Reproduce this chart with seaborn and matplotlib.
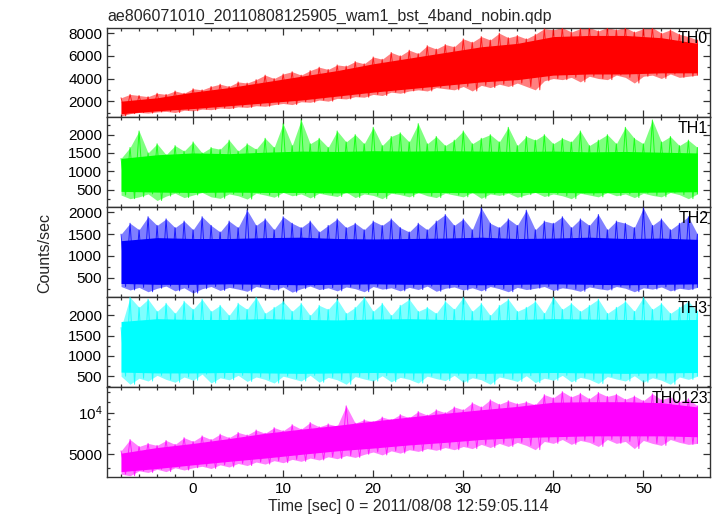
import numpy as np
import pandas as pd
import matplotlib
matplotlib.use("Agg")
import matplotlib.pyplot as plt
from matplotlib.ticker import MultipleLocator, FixedLocator, FixedFormatter, NullFormatter
import seaborn as sns

# ---------------- data ----------------
# spike extremes, 1-s samples
time_s = list(range(-8, 57))

th0_hi = [2300, 2600, 2500, 2400, 2700, 2600, 2900, 2700, 3100, 3000, 3300, 3500, 3300, 3700, 3600, 3900,
          4300, 4000, 4400, 4600, 4300, 4700, 5000, 4800, 5200, 5100, 5500, 5300, 5900, 5700, 6300, 6000,
          6500, 6200, 6900, 6600, 7000, 6800, 7500, 7200, 7700, 7400, 8000, 7600, 7800, 7500, 7900, 8400,
          8300, 8500, 8100, 8400, 8500, 8200, 8500, 8300, 8500, 8100, 8400, 8500, 8000, 8300, 7900, 7700, 7400]
th0_lo = [700, 900, 1000, 950, 1050, 1100, 1000, 1200, 1150, 1300, 1250, 1400, 1350, 1500, 1450, 1600,
          1550, 1700, 1800, 1700, 1950, 1900, 2100, 2000, 2250, 2200, 2400, 2350, 2600, 2500, 2800, 2700,
          2900, 3000, 2900, 3200, 3100, 3000, 3300, 2900, 3400, 3200, 3500, 3300, 3600, 3300, 3000, 3800,
          4000, 3900, 4100, 3700, 4200, 4000, 3900, 4300, 4100, 3600, 4200, 4300, 4000, 4400, 4100, 4200, 4300]

th1_hi = [1350, 1650, 2100, 1500, 1750, 1450, 1700, 1550, 1800, 1500, 1650, 1600, 1850, 1550, 1750, 1600,
          1900, 1650, 2300, 1700, 2400, 1750, 1900, 1650, 2100, 1800, 2000, 1750, 2200, 1700, 1950, 2050,
          1800, 2300, 1750, 1950, 1700, 1850, 2100, 1750, 1900, 2000, 1800, 2200, 1700, 1950, 1850, 2000,
          1750, 1900, 1800, 2100, 1700, 1850, 2000, 1750, 2200, 1900, 1750, 2400, 1800, 1950, 1700, 1850, 1650]
th1_lo = [350, 250, 300, 380, 200, 320, 400, 280, 350, 420, 300, 260, 380, 330, 240, 400,
          350, 290, 420, 330, 380, 270, 400, 350, 310, 430, 280, 380, 340, 250, 400, 360,
          300, 420, 330, 280, 400, 350, 300, 420, 260, 380, 340, 400, 290, 360, 420, 310,
          380, 330, 250, 400, 350, 300, 420, 330, 380, 280, 400, 340, 300, 420, 360, 250, 380]

th2_hi = [1500, 1750, 1600, 1900, 1700, 1850, 1650, 1800, 1600, 1900, 1700, 1550, 1800, 1650, 2050, 1700,
          1850, 1600, 1900, 1750, 1650, 1800, 1550, 1700, 1850, 1650, 1750, 1600, 1800, 1700, 1850, 1650,
          1550, 1750, 1600, 1800, 1950, 1700, 1850, 1600, 2100, 1750, 1650, 1850, 1700, 2050, 1600, 1800,
          1750, 1900, 1650, 1850, 1700, 1950, 1600, 1800, 1750, 1650, 2100, 1700, 1850, 1600, 1750, 1900, 1500]
th2_lo = [300, 220, 280, 180, 260, 310, 200, 270, 150, 250, 300, 210, 280, 240, 190, 300,
          260, 220, 290, 170, 250, 310, 230, 270, 200, 290, 250, 180, 300, 240, 270, 200,
          280, 230, 310, 190, 260, 290, 220, 270, 200, 300, 250, 180, 280, 230, 260, 300,
          210, 270, 240, 190, 290, 250, 220, 300, 260, 180, 270, 240, 290, 200, 260, 230, 280]

th3_hi = [1700, 2450, 2200, 2400, 2100, 2300, 2050, 2350, 2150, 2400, 2100, 2250, 2000, 2300, 2150, 2450,
          2050, 2200, 2350, 2100, 2300, 2000, 2250, 2150, 2400, 2050, 2200, 2450, 2100, 2300, 2000, 2250,
          2400, 2100, 2200, 2050, 2350, 2150, 2450, 2100, 2300, 2000, 2250, 2400, 2100, 2200, 2350, 2050,
          2450, 2150, 2300, 2100, 2250, 2400, 2050, 2200, 2350, 2100, 2450, 2150, 2300, 2050, 2200, 2350, 2100]
th3_lo = [500, 300, 450, 380, 520, 420, 350, 480, 400, 550, 330, 460, 410, 520, 370, 480,
          420, 330, 500, 440, 380, 520, 350, 470, 410, 300, 490, 430, 380, 510, 360, 470,
          420, 330, 500, 440, 390, 520, 350, 460, 410, 300, 480, 430, 370, 510, 340, 450,
          400, 520, 360, 470, 420, 320, 490, 430, 380, 510, 350, 460, 400, 300, 480, 420, 500]

th0123_hi = [5300, 6400, 5700, 6000, 5800, 6300, 5900, 6600, 6200, 6800, 6400, 7000, 6600, 7200, 6900, 7500,
             7100, 7800, 7400, 8200, 7600, 8500, 7900, 8300, 8000, 11200, 8400, 8900, 8600, 9300, 8900, 9700,
             9200, 10200, 9600, 10500, 10000, 11000, 10500, 11800, 11000, 12400, 11500, 12200, 11600, 12000,
             11400, 13500, 12800, 14200, 13000, 13800, 12600, 14000, 13100, 13600, 12500, 13200, 12200, 13700,
             12400, 13000, 12000, 12600, 11200]
th0123_lo = [3600, 3500, 3800, 3700, 3900, 3750, 4000, 3850, 4000, 4100, 3950, 4200, 4050, 4300, 4150, 4400,
             4250, 4500, 4350, 4600, 4450, 4700, 4550, 4800, 4650, 4900, 4750, 5000, 5200, 4950, 5300, 5100,
             5400, 5250, 5500, 5350, 5600, 5400, 5700, 5500, 5900, 5600, 6000, 5700, 6100, 5800, 5400, 6200,
             6000, 6400, 5900, 6300, 6100, 5700, 6400, 6000, 6200, 5500, 6300, 6000, 5800, 6400, 6100, 5900, 6000]

# solid (dense) part of each band, 4-s samples
core_time = list(range(-8, 57, 4))
th0_core_hi = [2000, 2300, 2800, 3200, 3700, 4200, 4700, 5300, 5800, 6300, 6800, 7100, 7700, 7800, 7800, 7600, 7100]
th0_core_lo = [900, 1150, 1350, 1600, 1850, 2100, 2450, 2800, 3100, 3400, 3700, 3900, 4300, 4400, 4400, 4500, 4500]
th1_core_hi = [1350, 1450, 1500, 1480, 1520, 1550, 1540, 1560, 1550, 1560, 1550, 1540, 1550, 1530, 1540, 1520, 1500]
th1_core_lo = [450, 430, 420, 430, 420, 420, 410, 420, 410, 420, 410, 420, 420, 410, 420, 430, 440]
th2_core_hi = [1350, 1420, 1400, 1400, 1420, 1430, 1400, 1390, 1400, 1410, 1430, 1400, 1410, 1430, 1400, 1410, 1380]
th2_core_lo = [370, 350, 350, 360, 350, 340, 350, 360, 350, 350, 340, 350, 360, 350, 340, 350, 360]
th3_core_hi = [1850, 1920, 1900, 1900, 1920, 1900, 1890, 1910, 1920, 1900, 1890, 1900, 1920, 1910, 1900, 1890, 1900]
th3_core_lo = [600, 580, 580, 590, 580, 570, 580, 590, 580, 580, 570, 580, 590, 580, 570, 580, 590]
th0123_core_hi = [5100, 5600, 6000, 6500, 7100, 7600, 8100, 8700, 9300, 9900, 10500, 11100, 11900, 12000, 12000, 11800, 11000]
th0123_core_lo = [3750, 3950, 4200, 4450, 4700, 5000, 5300, 5550, 5850, 6100, 6400, 6600, 6700, 6800, 6800, 6800, 6700]

band_names = ["TH0", "TH1", "TH2", "TH3", "TH0123"]
band_colors = ["#ff0000", "#00ff00", "#0000ff", "#00ffff", "#ff00ff"]
band_hi = [th0_hi, th1_hi, th2_hi, th3_hi, th0123_hi]
band_lo = [th0_lo, th1_lo, th2_lo, th3_lo, th0123_lo]
core_hi = [th0_core_hi, th1_core_hi, th2_core_hi, th3_core_hi, th0123_core_hi]
core_lo = [th0_core_lo, th1_core_lo, th2_core_lo, th3_core_lo, th0123_core_lo]
band_ylim = [(570, 8500), (15, 2470), (55, 2115), (230, 2450), (3430, 15300)]

title_text = "ae806071010_20110808125905_wam1_bst_4band_nobin.qdp"
xlabel_text = "Time [sec] 0 = 2011/08/08 12:59:05.114"
ylabel_text = "Counts/sec"

# ---------------- style ----------------
sns.set_style("ticks")
plt.rcParams["font.family"] = ["Liberation Sans", "DejaVu Sans"]
plt.rcParams["mathtext.fontset"] = "custom"
plt.rcParams["mathtext.rm"] = "Liberation Sans"
plt.rcParams["mathtext.it"] = "Liberation Sans"

W, H = 717, 516
fig, axes = plt.subplots(5, 1, sharex=True, figsize=(W / 100, H / 100), dpi=100)
fig.subplots_adjust(left=107 / W, right=710 / W, top=1 - 27.5 / H, bottom=1 - 477 / H, hspace=0)

t = np.array(time_s, dtype=float)
tc = np.array(core_time, dtype=float)
for i, ax in enumerate(axes):
    hi = np.array(band_hi[i], dtype=float)
    lo = np.array(band_lo[i], dtype=float)
    col = band_colors[i]
    # fuzzy fringe made of unresolved spikes
    ax.fill_between(t, lo, hi, color=col, lw=0, alpha=0.5, zorder=2)
    # dense core of the light curve
    ax.fill_between(tc, core_lo[i], core_hi[i], color=col, lw=0, zorder=2)
    # spiky outline alternating between peaks and troughs
    xs = np.empty(2 * len(t))
    ys = np.empty(2 * len(t))
    xs[0::2] = t
    xs[1::2] = np.minimum(t + 0.5, t[-1])
    ys[0::2] = hi
    ys[1::2] = lo
    df = pd.DataFrame({"time": xs, "rate": ys})
    sns.lineplot(data=df, x="time", y="rate", ax=ax, color=col, lw=0.7, alpha=0.8,
                 estimator=None, sort=False, legend=False, zorder=3)
    ax.set_xlim(-9.56, 57.4)
    if i == 4:
        ax.set_yscale("log")
    ax.set_ylim(*band_ylim[i])
    ax.set_xlabel("")
    ax.set_ylabel("")
    for s in ax.spines.values():
        s.set_visible(True)
        s.set_linewidth(1.0)
        s.set_color("#333333")
    ax.xaxis.set_major_locator(MultipleLocator(10))
    ax.xaxis.set_minor_locator(MultipleLocator(2))
    ax.tick_params(which="both", direction="in", top=True, right=True, bottom=True, left=True,
                   colors="#333333", labelcolor="black", labelsize=11, width=0.9)
    ax.tick_params(which="major", length=5)
    ax.tick_params(which="minor", length=2.5)
    if i < 4:
        ax.tick_params(labelbottom=False)
    ax.text(0.997, 0.96, band_names[i], transform=ax.transAxes, ha="right", va="top",
            fontsize=11.5, color="black", zorder=5)

axes[0].yaxis.set_major_locator(FixedLocator([2000, 4000, 6000, 8000]))
axes[0].yaxis.set_minor_locator(MultipleLocator(1000))
for ax in axes[1:4]:
    ax.yaxis.set_major_locator(FixedLocator([500, 1000, 1500, 2000]))
    ax.yaxis.set_minor_locator(MultipleLocator(250))
axes[4].yaxis.set_major_locator(FixedLocator([5000, 10000]))
axes[4].yaxis.set_major_formatter(FixedFormatter(["5000", "$10^4$"]))
axes[4].yaxis.set_minor_locator(FixedLocator([4000, 6000, 7000, 8000, 9000, 12000, 14000]))
axes[4].yaxis.set_minor_formatter(NullFormatter())

axes[0].set_title(title_text, loc="left", fontsize=11.5, pad=5)
axes[4].set_xlabel(xlabel_text, fontsize=11.5, labelpad=2)
fig.text(0.062, 0.51, ylabel_text, rotation=90, ha="center", va="center", fontsize=11.5)

fig.savefig("out.png", dpi=100)
